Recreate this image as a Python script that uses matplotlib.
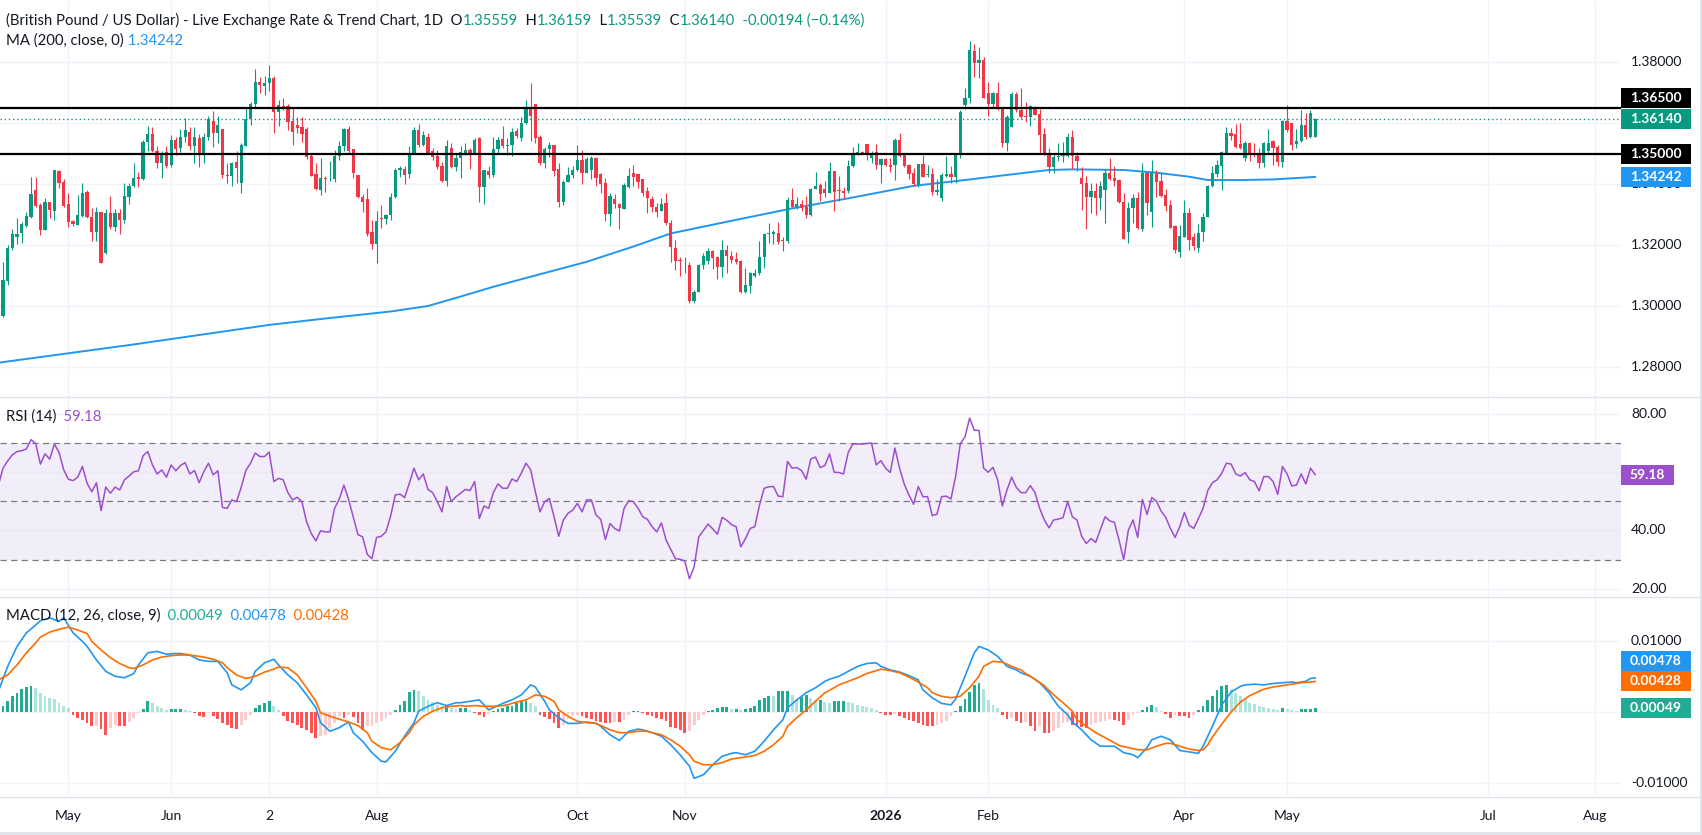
import numpy as np
import matplotlib
matplotlib.use("Agg")
import matplotlib.pyplot as plt
from matplotlib.patches import Rectangle
from matplotlib.lines import Line2D
from matplotlib import transforms

plt.rcParams['font.family'] = ['Lato', 'DejaVu Sans']

# ---- data (GBP/USD daily, bar 0 = 1 May 2025, first bar = 10 Apr 2025) ----
opens = [
    1.2846, 1.2968, 1.3084, 1.3190, 1.3226, 1.3239, 1.3263, 1.3294, 1.3381, 1.3332,
    1.3250, 1.3343, 1.3313, 1.3445, 1.3408, 1.3336, 1.3280, 1.3265, 1.3297, 1.3374,
    1.3294, 1.3244, 1.3310, 1.3176, 1.3307, 1.3261, 1.3307, 1.3283, 1.3358, 1.3393,
    1.3423, 1.3416, 1.3539, 1.3565, 1.3510, 1.3471, 1.3507, 1.3463, 1.3545, 1.3518,
    1.3556, 1.3573, 1.3526, 1.3551, 1.3502, 1.3556, 1.3609, 1.3567, 1.3580, 1.3430,
    1.3428, 1.3473, 1.3403, 1.3526, 1.3613, 1.3663, 1.3737, 1.3723, 1.3731, 1.3749,
    1.3636, 1.3657, 1.3657, 1.3609, 1.3595, 1.3589, 1.3581, 1.3493, 1.3434, 1.3381,
    1.3422, 1.3416, 1.3419, 1.3493, 1.3526, 1.3581, 1.3516, 1.3430, 1.3359, 1.3352,
    1.3242, 1.3205, 1.3287, 1.3285, 1.3298, 1.3358, 1.3446, 1.3449, 1.3434, 1.3504,
    1.3578, 1.3529, 1.3555, 1.3509, 1.3493, 1.3460, 1.3411, 1.3519, 1.3456, 1.3487,
    1.3500, 1.3513, 1.3502, 1.3551, 1.3392, 1.3445, 1.3431, 1.3515, 1.3548, 1.3526,
    1.3529, 1.3574, 1.3553, 1.3600, 1.3652, 1.3664, 1.3556, 1.3469, 1.3515, 1.3530,
    1.3450, 1.3343, 1.3407, 1.3431, 1.3447, 1.3480, 1.3436, 1.3447, 1.3487, 1.3434,
    1.3405, 1.3304, 1.3351, 1.3334, 1.3318, 1.3392, 1.3438, 1.3434, 1.3417, 1.3377,
    1.3352, 1.3327, 1.3313, 1.3340, 1.3274, 1.3190, 1.3152, 1.3134, 1.3137, 1.3019,
    1.3048, 1.3135, 1.3149, 1.3182, 1.3162, 1.3128, 1.3185, 1.3165, 1.3155, 1.3148,
    1.3048, 1.3068, 1.3099, 1.3110, 1.3163, 1.3237, 1.3237, 1.3240, 1.3214, 1.3213,
    1.3349, 1.3327, 1.3335, 1.3326, 1.3299, 1.3386, 1.3397, 1.3384, 1.3373, 1.3443,
    1.3381, 1.3377, 1.3378, 1.3460, 1.3502, 1.3506, 1.3532, 1.3485, 1.3506, 1.3463,
    1.3484, 1.3463, 1.3463, 1.3545, 1.3499, 1.3463, 1.3438, 1.3398, 1.3467, 1.3431,
    1.3434, 1.3376, 1.3354, 1.3427, 1.3434, 1.3425, 1.3499, 1.3660, 1.3682, 1.3838,
    1.3799, 1.3808, 1.3698, 1.3663, 1.3698, 1.3652, 1.3537, 1.3589, 1.3696, 1.3644,
    1.3624, 1.3622, 1.3652, 1.3630, 1.3565, 1.3504, 1.3458, 1.3491, 1.3493, 1.3493,
    1.3554, 1.3493, 1.3420, 1.3403, 1.3360, 1.3378, 1.3356, 1.3380, 1.3436, 1.3420,
    1.3414, 1.3343, 1.3242, 1.3321, 1.3354, 1.3252, 1.3436, 1.3310, 1.3436, 1.3411,
    1.3365, 1.3332, 1.3263, 1.3179, 1.3228, 1.3307, 1.3228, 1.3190, 1.3242, 1.3292,
    1.3395, 1.3434, 1.3460, 1.3502, 1.3569, 1.3564, 1.3532, 1.3485, 1.3534, 1.3504,
    1.3502, 1.3471, 1.3510, 1.3542, 1.3523, 1.3474, 1.3609, 1.3600, 1.3532, 1.3542,
    1.3595, 1.3556, 1.35559,
]
highs = [
    1.2975, 1.3146, 1.3201, 1.3253, 1.3291, 1.3278, 1.3310, 1.3425, 1.3425, 1.3340,
    1.3354, 1.3343, 1.3447, 1.3447, 1.3416, 1.3371, 1.3283, 1.3365, 1.3403, 1.3381,
    1.3322, 1.3327, 1.3310, 1.3318, 1.3362, 1.3320, 1.3320, 1.3403, 1.3403, 1.3469,
    1.3441, 1.3545, 1.3592, 1.3589, 1.3524, 1.3510, 1.3524, 1.3562, 1.3556, 1.3580,
    1.3617, 1.3589, 1.3587, 1.3565, 1.3567, 1.3624, 1.3639, 1.3624, 1.3580, 1.3469,
    1.3474, 1.3510, 1.3534, 1.3649, 1.3671, 1.3777, 1.3753, 1.3755, 1.3790, 1.3755,
    1.3677, 1.3682, 1.3663, 1.3650, 1.3620, 1.3620, 1.3587, 1.3504, 1.3469, 1.3485,
    1.3427, 1.3476, 1.3513, 1.3542, 1.3585, 1.3591, 1.3516, 1.3430, 1.3367, 1.3389,
    1.3283, 1.3313, 1.3332, 1.3303, 1.3370, 1.3452, 1.3460, 1.3460, 1.3526, 1.3589,
    1.3598, 1.3574, 1.3567, 1.3518, 1.3513, 1.3474, 1.3546, 1.3535, 1.3499, 1.3524,
    1.3534, 1.3518, 1.3551, 1.3556, 1.3447, 1.3460, 1.3554, 1.3556, 1.3591, 1.3551,
    1.3584, 1.3583, 1.3622, 1.3676, 1.3731, 1.3664, 1.3561, 1.3521, 1.3539, 1.3530,
    1.3469, 1.3414, 1.3458, 1.3460, 1.3529, 1.3513, 1.3491, 1.3493, 1.3490, 1.3437,
    1.3422, 1.3371, 1.3368, 1.3340, 1.3405, 1.3453, 1.3463, 1.3434, 1.3417, 1.3391,
    1.3362, 1.3340, 1.3354, 1.3370, 1.3283, 1.3219, 1.3163, 1.3163, 1.3144, 1.3054,
    1.3140, 1.3176, 1.3190, 1.3184, 1.3164, 1.3217, 1.3201, 1.3180, 1.3178, 1.3151,
    1.3127, 1.3114, 1.3121, 1.3215, 1.3240, 1.3272, 1.3250, 1.3278, 1.3227, 1.3357,
    1.3387, 1.3357, 1.3350, 1.3361, 1.3389, 1.3441, 1.3403, 1.3412, 1.3472, 1.3443,
    1.3427, 1.3391, 1.3480, 1.3521, 1.3537, 1.3510, 1.3532, 1.3510, 1.3532, 1.3485,
    1.3487, 1.3485, 1.3551, 1.3567, 1.3499, 1.3467, 1.3452, 1.3467, 1.3496, 1.3464,
    1.3452, 1.3416, 1.3436, 1.3493, 1.3460, 1.3504, 1.3642, 1.3715, 1.3870, 1.3860,
    1.3851, 1.3819, 1.3737, 1.3704, 1.3737, 1.3652, 1.3628, 1.3704, 1.3704, 1.3715,
    1.3671, 1.3660, 1.3657, 1.3648, 1.3584, 1.3518, 1.3499, 1.3534, 1.3538, 1.3567,
    1.3578, 1.3507, 1.3458, 1.3427, 1.3403, 1.3403, 1.3412, 1.3449, 1.3485, 1.3460,
    1.3416, 1.3370, 1.3343, 1.3367, 1.3376, 1.3471, 1.3442, 1.3480, 1.3447, 1.3438,
    1.3384, 1.3349, 1.3267, 1.3267, 1.3349, 1.3321, 1.3239, 1.3270, 1.3305, 1.3398,
    1.3460, 1.3480, 1.3510, 1.3589, 1.3584, 1.3598, 1.3600, 1.3543, 1.3540, 1.3534,
    1.3518, 1.3540, 1.3580, 1.3545, 1.3529, 1.3611, 1.3660, 1.3602, 1.3580, 1.3644,
    1.3633, 1.3642, 1.36159,
]
lows = [
    1.2830, 1.2965, 1.3070, 1.3184, 1.3204, 1.3206, 1.3261, 1.3289, 1.3327, 1.3234,
    1.3250, 1.3288, 1.3283, 1.3387, 1.3327, 1.3261, 1.3263, 1.3265, 1.3293, 1.3290,
    1.3215, 1.3215, 1.3143, 1.3172, 1.3254, 1.3247, 1.3238, 1.3272, 1.3336, 1.3390,
    1.3390, 1.3414, 1.3510, 1.3507, 1.3453, 1.3420, 1.3453, 1.3458, 1.3496, 1.3507,
    1.3540, 1.3513, 1.3469, 1.3458, 1.3469, 1.3545, 1.3521, 1.3537, 1.3420, 1.3403,
    1.3393, 1.3403, 1.3373, 1.3524, 1.3594, 1.3655, 1.3699, 1.3693, 1.3707, 1.3567,
    1.3590, 1.3642, 1.3578, 1.3529, 1.3568, 1.3540, 1.3482, 1.3428, 1.3381, 1.3365,
    1.3375, 1.3411, 1.3407, 1.3480, 1.3508, 1.3504, 1.3420, 1.3354, 1.3310, 1.3232,
    1.3189, 1.3143, 1.3256, 1.3270, 1.3283, 1.3355, 1.3423, 1.3401, 1.3420, 1.3498,
    1.3523, 1.3527, 1.3502, 1.3480, 1.3449, 1.3407, 1.3395, 1.3453, 1.3442, 1.3422,
    1.3495, 1.3449, 1.3499, 1.3343, 1.3337, 1.3420, 1.3425, 1.3502, 1.3520, 1.3496,
    1.3493, 1.3551, 1.3542, 1.3598, 1.3543, 1.3537, 1.3464, 1.3453, 1.3491, 1.3428,
    1.3327, 1.3332, 1.3407, 1.3420, 1.3445, 1.3401, 1.3436, 1.3417, 1.3394, 1.3373,
    1.3281, 1.3263, 1.3321, 1.3252, 1.3318, 1.3389, 1.3395, 1.3389, 1.3362, 1.3307,
    1.3310, 1.3292, 1.3311, 1.3268, 1.3144, 1.3119, 1.3099, 1.3108, 1.3012, 1.3012,
    1.3048, 1.3121, 1.3140, 1.3121, 1.3089, 1.3095, 1.3110, 1.3142, 1.3139, 1.3045,
    1.3042, 1.3042, 1.3096, 1.3104, 1.3126, 1.3207, 1.3205, 1.3205, 1.3182, 1.3208,
    1.3325, 1.3319, 1.3314, 1.3291, 1.3295, 1.3383, 1.3346, 1.3360, 1.3371, 1.3314,
    1.3345, 1.3356, 1.3370, 1.3458, 1.3496, 1.3499, 1.3480, 1.3471, 1.3449, 1.3405,
    1.3460, 1.3440, 1.3413, 1.3489, 1.3458, 1.3416, 1.3395, 1.3392, 1.3423, 1.3425,
    1.3365, 1.3365, 1.3346, 1.3425, 1.3405, 1.3405, 1.3485, 1.3646, 1.3668, 1.3753,
    1.3748, 1.3684, 1.3624, 1.3652, 1.3644, 1.3521, 1.3510, 1.3589, 1.3638, 1.3613,
    1.3605, 1.3592, 1.3627, 1.3499, 1.3496, 1.3438, 1.3438, 1.3478, 1.3474, 1.3491,
    1.3449, 1.3442, 1.3316, 1.3254, 1.3307, 1.3300, 1.3316, 1.3274, 1.3414, 1.3395,
    1.3340, 1.3221, 1.3208, 1.3274, 1.3252, 1.3248, 1.3299, 1.3259, 1.3357, 1.3360,
    1.3313, 1.3256, 1.3176, 1.3163, 1.3228, 1.3185, 1.3183, 1.3179, 1.3215, 1.3292,
    1.3392, 1.3425, 1.3381, 1.3499, 1.3545, 1.3518, 1.3515, 1.3478, 1.3478, 1.3491,
    1.3452, 1.3456, 1.3499, 1.3463, 1.3460, 1.3458, 1.3573, 1.3513, 1.3518, 1.3540,
    1.3548, 1.3551, 1.35539,
]
closes = [
    1.2966, 1.3086, 1.3190, 1.3237, 1.3237, 1.3270, 1.3296, 1.3368, 1.3329, 1.3250,
    1.3343, 1.3316, 1.3447, 1.3405, 1.3330, 1.3275, 1.3269, 1.3300, 1.3373, 1.3292,
    1.3244, 1.3310, 1.3143, 1.3307, 1.3261, 1.3307, 1.3283, 1.3362, 1.3396, 1.3420,
    1.3419, 1.3539, 1.3565, 1.3510, 1.3469, 1.3499, 1.3460, 1.3545, 1.3517, 1.3556,
    1.3578, 1.3526, 1.3554, 1.3502, 1.3556, 1.3613, 1.3567, 1.3594, 1.3430, 1.3428,
    1.3471, 1.3452, 1.3528, 1.3613, 1.3663, 1.3737, 1.3724, 1.3732, 1.3749, 1.3638,
    1.3661, 1.3650, 1.3605, 1.3573, 1.3584, 1.3565, 1.3491, 1.3428, 1.3385, 1.3422,
    1.3416, 1.3419, 1.3493, 1.3526, 1.3581, 1.3510, 1.3438, 1.3359, 1.3341, 1.3236,
    1.3205, 1.3280, 1.3285, 1.3298, 1.3359, 1.3447, 1.3455, 1.3432, 1.3504, 1.3578,
    1.3529, 1.3562, 1.3504, 1.3491, 1.3456, 1.3411, 1.3526, 1.3456, 1.3487, 1.3507,
    1.3513, 1.3502, 1.3545, 1.3392, 1.3447, 1.3431, 1.3515, 1.3545, 1.3526, 1.3529,
    1.3573, 1.3558, 1.3600, 1.3654, 1.3624, 1.3551, 1.3469, 1.3516, 1.3530, 1.3445,
    1.3343, 1.3407, 1.3431, 1.3447, 1.3480, 1.3436, 1.3484, 1.3487, 1.3422, 1.3401,
    1.3304, 1.3362, 1.3334, 1.3321, 1.3397, 1.3428, 1.3425, 1.3407, 1.3370, 1.3356,
    1.3327, 1.3310, 1.3335, 1.3272, 1.3196, 1.3150, 1.3150, 1.3136, 1.3019, 1.3048,
    1.3135, 1.3165, 1.3182, 1.3160, 1.3130, 1.3185, 1.3165, 1.3152, 1.3146, 1.3048,
    1.3070, 1.3108, 1.3110, 1.3163, 1.3237, 1.3240, 1.3245, 1.3212, 1.3213, 1.3349,
    1.3327, 1.3336, 1.3322, 1.3299, 1.3385, 1.3395, 1.3367, 1.3373, 1.3443, 1.3376,
    1.3377, 1.3372, 1.3460, 1.3504, 1.3506, 1.3504, 1.3504, 1.3504, 1.3463, 1.3483,
    1.3463, 1.3458, 1.3545, 1.3493, 1.3460, 1.3434, 1.3401, 1.3467, 1.3425, 1.3434,
    1.3374, 1.3381, 1.3431, 1.3434, 1.3425, 1.3504, 1.3638, 1.3682, 1.3840, 1.3799,
    1.3808, 1.3684, 1.3663, 1.3698, 1.3646, 1.3537, 1.3622, 1.3696, 1.3642, 1.3622,
    1.3622, 1.3657, 1.3628, 1.3562, 1.3499, 1.3458, 1.3491, 1.3493, 1.3504, 1.3554,
    1.3493, 1.3478, 1.3401, 1.3360, 1.3378, 1.3356, 1.3396, 1.3436, 1.3419, 1.3412,
    1.3343, 1.3221, 1.3321, 1.3354, 1.3256, 1.3436, 1.3340, 1.3436, 1.3409, 1.3362,
    1.3329, 1.3258, 1.3185, 1.3231, 1.3307, 1.3217, 1.3198, 1.3239, 1.3294, 1.3395,
    1.3436, 1.3463, 1.3507, 1.3567, 1.3558, 1.3523, 1.3518, 1.3534, 1.3496, 1.3499,
    1.3469, 1.3534, 1.3534, 1.3518, 1.3474, 1.3609, 1.3578, 1.3529, 1.3542, 1.3595,
    1.3554, 1.36334, 1.36140,
]

# MA(200) read at sample bars
ma_x = [-15, 14, 43, 55, 69, 77, 84, 91, 99, 111, 121, 129, 140, 147, 155, 167, 181,
        192, 199, 210, 215, 226, 233, 240, 244, 251, 258, 267]
ma_y = [1.2815, 1.2875, 1.2939, 1.2960, 1.2983, 1.3001, 1.3032, 1.3064, 1.3097, 1.3146,
        1.3196, 1.3239, 1.3274, 1.3296, 1.3321, 1.3354, 1.3395, 1.3414, 1.3427, 1.3447,
        1.3449, 1.3447, 1.3438, 1.3425, 1.3414, 1.3414, 1.3416, 1.34242]

rsi = [
    55.5, 61.4, 63.9, 66.0, 67.1, 67.4, 68.0, 71.2, 69.8, 62.8,
    66.3, 64.5, 69.7, 66.8, 60.8, 57.6, 57.1, 58.3, 62.0, 56.2,
    53.3, 56.4, 46.8, 54.9, 52.8, 54.9, 53.9, 57.4, 58.7, 60.2,
    60.5, 65.7, 67.1, 62.5, 59.4, 60.8, 58.3, 62.5, 60.5, 62.3,
    63.3, 59.4, 60.6, 56.4, 60.2, 63.1, 59.1, 60.5, 47.9, 47.6,
    50.5, 49.9, 54.8, 60.6, 63.1, 66.6, 65.4, 65.4, 66.9, 56.8,
    57.9, 57.4, 53.0, 50.5, 51.4, 49.9, 43.0, 39.0, 36.4, 39.9,
    39.5, 39.5, 47.6, 50.7, 55.6, 50.7, 44.7, 38.6, 37.8, 31.8,
    30.3, 37.6, 38.0, 39.5, 44.9, 52.2, 52.5, 51.3, 56.2, 61.4,
    57.4, 59.4, 54.1, 53.0, 49.9, 46.4, 55.1, 49.9, 51.6, 52.8,
    54.1, 53.7, 56.8, 44.1, 48.4, 47.6, 53.0, 56.0, 54.5, 54.5,
    57.7, 56.8, 59.7, 63.1, 60.8, 53.3, 46.4, 49.9, 51.0, 44.7,
    38.0, 43.6, 45.9, 47.0, 49.3, 46.4, 50.5, 50.5, 45.3, 43.8,
    36.9, 42.4, 40.7, 39.8, 47.6, 50.2, 49.9, 47.6, 44.7, 43.8,
    41.3, 39.5, 42.6, 36.7, 33.5, 30.3, 30.1, 29.5, 23.4, 27.5,
    37.8, 40.0, 42.2, 40.5, 38.7, 44.5, 43.5, 42.0, 41.3, 34.4,
    37.2, 40.7, 41.3, 48.7, 54.5, 55.0, 55.1, 51.8, 51.6, 63.7,
    61.4, 61.6, 60.6, 57.6, 64.6, 65.2, 61.6, 62.3, 66.3, 60.0,
    59.9, 59.4, 66.8, 69.7, 69.7, 69.7, 69.9, 70.0, 62.5, 64.0,
    61.4, 59.9, 68.3, 61.4, 55.9, 52.2, 49.0, 55.1, 51.6, 51.6,
    45.1, 45.6, 51.6, 51.8, 50.8, 58.5, 69.8, 72.1, 78.6, 74.4,
    74.4, 61.4, 60.0, 61.7, 57.4, 48.4, 53.9, 58.3, 54.8, 53.0,
    53.0, 55.4, 53.0, 47.6, 43.6, 40.9, 43.6, 43.9, 44.4, 49.9,
    44.7, 43.6, 38.0, 35.5, 37.2, 35.9, 40.3, 44.7, 43.3, 42.8,
    36.7, 30.0, 40.1, 43.6, 37.6, 50.7, 45.5, 51.3, 50.1, 46.7,
    44.5, 40.7, 37.6, 41.3, 46.2, 41.8, 40.7, 44.1, 47.6, 53.7,
    56.4, 57.4, 59.7, 63.1, 62.8, 59.4, 58.7, 59.9, 57.4, 56.8,
    53.6, 58.5, 58.5, 56.8, 52.4, 62.0, 59.4, 55.3, 55.6, 59.4,
    56.0, 61.4, 59.18,
]

hist = [
    0.0004, 0.0009, 0.0016, 0.0022, 0.0026, 0.0032, 0.0035, 0.0037, 0.0034, 0.0026,
    0.0022, 0.0020, 0.0018, 0.0012, 0.0009, 0.0005, -0.0004, -0.0008, -0.0011, -0.0015,
    -0.0020, -0.0019, -0.0024, -0.0032, -0.0022, -0.0018, -0.0020, -0.0020, -0.0014, -0.0008,
    -0.0002, 0.0004, 0.0016, 0.0012, 0.0008, 0.0005, 0.0003, 0.0004, 0.0004, 0.0004,
    0.0003, 0.0002, -0.0002, -0.0006, -0.0007, -0.0001, -0.0005, -0.0010, -0.0015, -0.0018,
    -0.0022, -0.0024, -0.0018, -0.0011, -0.0004, 0.0006, 0.0010, 0.0013, 0.0016, 0.0008,
    0.0003, -0.0005, -0.0012, -0.0015, -0.0018, -0.0022, -0.0025, -0.0029, -0.0036, -0.0034,
    -0.0032, -0.0022, -0.0015, -0.0006, -0.0008, -0.0004, -0.0007, -0.0015, -0.0025, -0.0020,
    -0.0019, -0.0015, -0.0012, -0.0008, -0.0004, 0.0003, 0.0010, 0.0016, 0.0028, 0.0031,
    0.0030, 0.0022, 0.0017, 0.0014, 0.0010, 0.0008, 0.0009, 0.0006, 0.0004, 0.0006,
    0.0006, 0.0003, -0.0001, -0.0004, -0.0007, -0.0003, 0.0002, 0.0004, 0.0006, 0.0008,
    0.0009, 0.0012, 0.0015, 0.0016, 0.0013, 0.0008, -0.0004, -0.0007, -0.0010, -0.0016,
    -0.0022, -0.0018, -0.0010, -0.0006, -0.0004, -0.0006, -0.0008, -0.0010, -0.0013, -0.0014,
    -0.0015, -0.0015, -0.0014, -0.0014, -0.0011, -0.0004, 0.0002, 0.0002, -0.0002, -0.0004,
    -0.0006, -0.0008, -0.0010, -0.0013, -0.0021, -0.0022, -0.0025, -0.0029, -0.0027, -0.0018,
    -0.0011, -0.0004, 0.0001, 0.0003, 0.0006, 0.0007, 0.0007, 0.0004, 0.0004, 0.0003,
    0.0004, 0.0006, 0.0009, 0.0017, 0.0020, 0.0023, 0.0022, 0.0029, 0.0030, 0.0030,
    0.0024, 0.0018, 0.0021, 0.0024, 0.0020, 0.0017, 0.0017, 0.0014, 0.0013, 0.0015,
    0.0015, 0.0015, 0.0014, 0.0012, 0.0010, 0.0009, 0.0007, 0.0005, 0.0003, -0.0002,
    -0.0004, -0.0004, -0.0003, -0.0006, -0.0008, -0.0011, -0.0013, -0.0015, -0.0018, -0.0019,
    -0.0020, -0.0018, -0.0016, -0.0013, -0.0006, 0.0002, 0.0009, 0.0018, 0.0028, 0.0038,
    0.0041, 0.0032, 0.0017, 0.0010, 0.0006, -0.0004, -0.0010, -0.0008, -0.0012, -0.0015,
    -0.0014, -0.0020, -0.0026, -0.0020, -0.0029, -0.0029, -0.0027, -0.0022, -0.0015, -0.0014,
    -0.0018, -0.0020, -0.0021, -0.0022, -0.0018, -0.0015, -0.0014, -0.0013, -0.0010, -0.0011,
    -0.0012, -0.0018, -0.0011, -0.0004, -0.0002, 0.0003, 0.0007, 0.0010, 0.0007, 0.0002,
    -0.0003, -0.0008, -0.0004, -0.0006, -0.0006, -0.0008, -0.0004, 0.0003, 0.0009, 0.0017,
    0.0022, 0.0031, 0.0036, 0.0038, 0.0032, 0.0027, 0.0022, 0.0018, 0.0013, 0.0011,
    0.0009, 0.0007, 0.0005, 0.0004, 0.0003, 0.0006, 0.0004, 0.0003, 0.0002, 0.0004,
    0.0004, 0.0004, 0.00049,
]

macd_x = [-15, -13, -11, -9, -7, -6, -4, -2, -1, 1, 3, 4, 6, 8, 10, 12, 14, 15, 17, 19,
          21, 23, 24, 26, 28, 30, 32, 34, 35, 37, 39, 40, 42, 44, 45, 47, 49, 51, 53, 54,
          56, 58, 60, 61, 63, 65, 67, 68, 70, 72, 74, 75, 77, 79, 81, 83, 84, 86, 88, 90,
          92, 93, 95, 97, 99, 100, 102, 103, 105, 107, 109, 111, 113, 114, 116, 118, 120,
          122, 123, 125, 127, 129, 131, 133, 134, 136, 138, 140, 142, 143, 145, 147, 149,
          151, 153, 154, 156, 158, 160, 162, 163, 165, 167, 169, 171, 173, 174, 176, 178,
          180, 182, 183, 185, 187, 189, 190, 192, 194, 195, 197, 199, 201, 203, 204, 206,
          208, 210, 212, 214, 215, 217, 219, 221, 223, 224, 226, 228, 229, 231, 232, 234,
          236, 238, 239, 242, 243, 245, 247, 249, 251, 252, 254, 256, 258, 260, 262, 263,
          265, 266, 267]
macd_y = [0.0029, 0.0064, 0.0092, 0.0111, 0.0122, 0.0128, 0.0132, 0.0127, 0.0132, 0.0111,
          0.0099, 0.0092, 0.0073, 0.0057, 0.0050, 0.0048, 0.0054, 0.0066, 0.0083, 0.0085,
          0.0081, 0.0082, 0.0082, 0.0080, 0.0073, 0.0071, 0.0071, 0.0055, 0.0038, 0.0031,
          0.0041, 0.0057, 0.0069, 0.0074, 0.0066, 0.0052, 0.0041, 0.0024, 0.0006, -0.0015,
          -0.0027, -0.0022, -0.0014, -0.0029, -0.0041, -0.0057, -0.0069, -0.0070, -0.0055,
          -0.0034, -0.0015, 0.0001, 0.0008, 0.0013, 0.0009, 0.0013, 0.0013, 0.0015, 0.0017,
          0.0003, 0.0009, 0.0012, 0.0017, 0.0024, 0.0038, 0.0035, 0.0015, 0.0003, -0.0008,
          -0.0016, -0.0016, -0.0014, -0.0016, -0.0020, -0.0032, -0.0040, -0.0027, -0.0024,
          -0.0025, -0.0029, -0.0034, -0.0046, -0.0060, -0.0076, -0.0093, -0.0088, -0.0074,
          -0.0062, -0.0058, -0.0057, -0.0060, -0.0055, -0.0041, -0.0025, -0.0011, 0.0006,
          0.0017, 0.0027, 0.0034, 0.0043, 0.0046, 0.0050, 0.0057, 0.0064, 0.0068, 0.0069,
          0.0064, 0.0059, 0.0056, 0.0051, 0.0045, 0.0031, 0.0020, 0.0012, 0.0010, 0.0018,
          0.0050, 0.0083, 0.0092, 0.0087, 0.0078, 0.0064, 0.0059, 0.0055, 0.0050, 0.0041,
          0.0027, 0.0008, -0.0004, -0.0014, -0.0025, -0.0039, -0.0048, -0.0048, -0.0048,
          -0.0057, -0.0060, -0.0064, -0.0050, -0.0039, -0.0034, -0.0039, -0.0054, -0.0055,
          -0.0058, -0.0048, -0.0020, 0.0010, 0.0028, 0.0036, 0.0038, 0.0039, 0.0038, 0.0040,
          0.0041, 0.0042, 0.0041, 0.0043, 0.0047, 0.00478]

signal_x = [-15, -13, -11, -9, -7, -6, -4, -2, 0, 2, 4, 5, 7, 9, 11, 13, 14, 16, 18, 20,
            22, 24, 25, 27, 29, 31, 33, 34, 36, 38, 40, 42, 44, 45, 47, 49, 51, 53, 54, 56,
            58, 60, 62, 64, 65, 67, 69, 71, 73, 74, 76, 78, 80, 82, 84, 85, 87, 89, 91, 93,
            94, 96, 98, 100, 102, 104, 105, 107, 109, 111, 113, 114, 116, 118, 120, 122,
            124, 125, 127, 129, 131, 133, 134, 136, 138, 140, 142, 144, 145, 147, 149, 151,
            153, 154, 156, 158, 160, 162, 164, 165, 167, 169, 171, 173, 174, 176, 178, 180,
            182, 184, 185, 187, 189, 191, 193, 195, 196, 198, 200, 202, 204, 205, 207, 209,
            211, 213, 215, 216, 218, 220, 222, 224, 225, 227, 229, 231, 233, 235, 236, 238,
            240, 242, 243, 244, 245, 247, 249, 251, 253, 255, 256, 258, 260, 262, 264, 266,
            267]
signal_y = [0.0045, 0.0052, 0.0066, 0.0083, 0.0097, 0.0105, 0.0112, 0.0116, 0.0119, 0.0115,
            0.0110, 0.0099, 0.0087, 0.0076, 0.0068, 0.0062, 0.0061, 0.0066, 0.0073, 0.0077,
            0.0079, 0.0080, 0.0080, 0.0079, 0.0077, 0.0074, 0.0069, 0.0062, 0.0052, 0.0047,
            0.0050, 0.0056, 0.0060, 0.0063, 0.0062, 0.0052, 0.0034, 0.0015, -0.0001, -0.0006,
            -0.0010, -0.0014, -0.0019, -0.0029, -0.0041, -0.0050, -0.0053, -0.0043, -0.0029,
            -0.0018, -0.0006, 0.0001, 0.0006, 0.0008, 0.0009, 0.0008, 0.0009, 0.0008, 0.0008,
            0.0009, 0.0010, 0.0014, 0.0017, 0.0024, 0.0022, 0.0015, 0.0003, -0.0006, -0.0013,
            -0.0015, -0.0016, -0.0019, -0.0025, -0.0029, -0.0029, -0.0027, -0.0027, -0.0029,
            -0.0032, -0.0039, -0.0048, -0.0060, -0.0069, -0.0074, -0.0074, -0.0071, -0.0066,
            -0.0064, -0.0063, -0.0061, -0.0055, -0.0046, -0.0034, -0.0020, -0.0008, 0.0003,
            0.0015, 0.0027, 0.0034, 0.0038, 0.0043, 0.0048, 0.0054, 0.0058, 0.0060, 0.0058,
            0.0055, 0.0049, 0.0042, 0.0034, 0.0027, 0.0022, 0.0020, 0.0022, 0.0034, 0.0050,
            0.0064, 0.0071, 0.0070, 0.0064, 0.0059, 0.0054, 0.0046, 0.0037, 0.0024, 0.0013,
            0.0001, -0.0011, -0.0020, -0.0029, -0.0036, -0.0043, -0.0047, -0.0050, -0.0053,
            -0.0053, -0.0048, -0.0044, -0.0044, -0.0048, -0.0052, -0.0054, -0.0053, -0.0046,
            -0.0035, -0.0017, 0.0000, 0.0014, 0.0023, 0.0029, 0.0032, 0.0035, 0.0037, 0.0039,
            0.0041, 0.0042, 0.00428]

levels = [1.365, 1.350]
price_grid = [1.28, 1.30, 1.32, 1.34, 1.36, 1.38]
rsi_grid = [20, 40, 60, 80]
macd_grid = [-0.01, 0.0, 0.01]
# scale labels not hidden behind the value tags
price_labels = [1.28, 1.30, 1.32, 1.34, 1.38]
rsi_labels = [20, 40, 80]
macd_labels = [-0.01, 0.01]

tick_dates = ['2025-05-01', '2025-06-02', '2025-07-01', '2025-08-01', '2025-10-01',
              '2025-11-03', '2026-01-01', '2026-02-02', '2026-04-01', '2026-05-01',
              '2026-07-01', '2026-08-03']
tick_labels = ['May', 'Jun', '2', 'Aug', 'Oct', 'Nov', '2026', 'Feb', 'Apr', 'May',
               'Jul', 'Aug']

# ---- colours ----
UP, DOWN = '#089981', '#f23645'
TXT = '#131722'
GRID = '#f0f3fa'
SEP = '#e0e3eb'
BLUE = '#2196f3'
ORANGE = '#ff6d00'
PURPLE = '#9c4fcc'
TEAL = '#22ab94'

# ---- layout (pixels) ----
W, H = 1702, 835
PLOT_R = 1621
fig = plt.figure(figsize=(W / 100, H / 100), dpi=100)
fig.patch.set_facecolor('white')

x = np.arange(len(closes)) - 15
tick_pos = np.busday_count('2025-05-01', tick_dates)
x_left, x_right = -14.65, 332.5


def pane(top, bottom, ylim):
    ax = fig.add_axes([0, 1 - bottom / H, PLOT_R / W, (bottom - top) / H])
    ax.set_axis_off()
    ax.set_xlim(x_left, x_right)
    ax.set_ylim(*ylim)
    ax.vlines(tick_pos, ylim[0], ylim[1], color=GRID, lw=1, zorder=0)
    return ax


ax_p = pane(0, 396.7, (1.27036, 1.40043))
ax_r = pane(397.5, 596, (17.49, 85.67))
ax_m = pane(597.5, 796, (-0.01178, 0.016055))

# ---- price pane ----
for g in price_grid:
    ax_p.axhline(g, color=GRID, lw=1, zorder=0)
o, h, l, c = map(np.array, (opens, highs, lows, closes))
cols = np.where(c >= o, UP, DOWN)
lo_body = np.minimum(o, c)
body = np.maximum(np.abs(c - o), 0.0003)
ax_p.vlines(x, np.minimum(l, lo_body), np.maximum(h, np.maximum(o, c)), colors=cols, lw=0.8, zorder=3)
ax_p.bar(x, body, bottom=lo_body, width=0.7, color=cols, linewidth=0, zorder=4)
ax_p.plot(ma_x, ma_y, color=BLUE, lw=1.4, zorder=2)
for lv in levels:
    ax_p.axhline(lv, color='black', lw=1.6, zorder=5)
ax_p.axhline(c[-1], color=UP, lw=1, ls=(0, (1, 2)), zorder=5)

# ---- RSI pane ----
ax_r.axhspan(30, 70, color='#f2eef9', zorder=0, lw=0)
for g in rsi_grid:
    ax_r.axhline(g, color='#ebe8f2' if 30 < g < 70 else GRID, lw=1, zorder=1)
for g in (70, 50, 30):
    ax_r.axhline(g, color='#787b86', lw=0.9, ls=(0, (5, 3.5)), zorder=2)
ax_r.plot(x, rsi, color=PURPLE, lw=1.1, zorder=3)

# ---- MACD pane ----
for g in macd_grid:
    ax_m.axhline(g, color=GRID, lw=1, zorder=0)
hv = np.array(hist)
prev = np.concatenate([[hv[0]], hv[:-1]])
hcols = np.where(hv >= 0, np.where(hv >= prev, TEAL, '#ace5dc'),
                 np.where(hv <= prev, '#ff5252', '#fccbcd'))
ax_m.bar(x, hv, width=0.6, color=hcols, linewidth=0, zorder=2)
ax_m.plot(macd_x, macd_y, color=BLUE, lw=1.2, zorder=3)
ax_m.plot(signal_x, signal_y, color=ORANGE, lw=1.2, zorder=4)

# ---- separators and frame ----
for yy in (397, 597, 797):
    fig.add_artist(Line2D([0, 1], [1 - yy / H] * 2, color=SEP, lw=1))
fig.add_artist(Rectangle((0, 0), 1, 3 / H, transform=fig.transFigure, color=SEP, lw=0))
fig.add_artist(Rectangle((1 - 2 / W, 0), 2 / W, 1, transform=fig.transFigure, color=SEP, lw=0))

# ---- right axis labels ----
def axis_labels(ax, values, fmt):
    tr = transforms.blended_transform_factory(fig.transFigure, ax.transData)
    for v in values:
        ax.text(1631 / W, v, fmt.format(v), transform=tr, ha='left', va='center',
                fontsize=10, color=TXT, clip_on=False)


axis_labels(ax_p, price_labels, '{:.5f}')
axis_labels(ax_r, rsi_labels, '{:.2f}')
axis_labels(ax_m, macd_labels, '{:.5f}')


def tag(ax, value, text, color, width=70, dy=0):
    y = ax.transData.transform((0, value))[1] + dy
    fig.add_artist(Rectangle((PLOT_R / W, (y - 10) / H), width / W, 20 / H,
                             transform=fig.transFigure, facecolor=color, lw=0, zorder=5))
    fig.text((PLOT_R + width / 2) / W, y / H, text, color='white', ha='center',
             va='center', fontsize=10, fontweight='bold', zorder=6)


tag(ax_p, levels[0], f'{levels[0]:.5f}', 'black', dy=10.4)
tag(ax_p, c[-1], f'{c[-1]:.5f}', UP)
tag(ax_p, levels[1], f'{levels[1]:.5f}', 'black')
tag(ax_p, ma_y[-1], f'{ma_y[-1]:.5f}', BLUE)
tag(ax_r, rsi[-1], f'{rsi[-1]:.2f}', PURPLE, width=53)
tag(ax_m, macd_y[-1], f'{macd_y[-1]:.5f}', BLUE, dy=16.5)
tag(ax_m, signal_y[-1], f'{signal_y[-1]:.5f}', ORANGE)
tag(ax_m, hist[-1], f'{hist[-1]:.5f}', TEAL)

# ---- time axis ----
trx = transforms.blended_transform_factory(ax_m.transData, fig.transFigure)
for p, s in zip(tick_pos, tick_labels):
    ax_m.text(p, 1 - 816 / H, s, transform=trx, ha='center', va='center', fontsize=10,
              color=TXT, fontweight='bold' if s.isdigit() and len(s) == 4 else 'normal',
              clip_on=False)

# ---- legends / header ----
renderer = fig.canvas.get_renderer()


def text_run(y_px, pieces, x_px=6, size=10.7):
    xx = x_px / W
    for s, col in pieces:
        t = fig.text(xx, 1 - y_px / H, s, color=col, fontsize=size, ha='left', va='center')
        xx = t.get_window_extent(renderer).x1 / W


chg = c[-1] - c[-2]
text_run(20.6, [("(British Pound / US Dollar) - Live Exchange Rate & Trend Chart, 1D", TXT),
                ("  O", TXT), (f"{o[-1]:.5f}", UP), ("  H", TXT), (f"{h[-1]:.5f}", UP),
                ("  L", TXT), (f"{l[-1]:.5f}", UP), ("  C", TXT), (f"{c[-1]:.5f}", UP),
                (f"  {chg:.5f} (\u2212{abs(chg) / c[-2] * 100:.2f}%)", UP)])
text_run(41, [("MA (200, close, 0)", TXT), (f" {ma_y[-1]:.5f}", BLUE)])
text_run(417, [("RSI (14)", TXT), (f"  {rsi[-1]:.2f}", PURPLE)])
text_run(615.5, [("MACD (12, 26, close, 9)", TXT), (f"  {hist[-1]:.5f}", TEAL),
                 (f"  {macd_y[-1]:.5f}", BLUE), (f"  {signal_y[-1]:.5f}", ORANGE)])

fig.savefig('out.png', dpi=100, facecolor='white')
